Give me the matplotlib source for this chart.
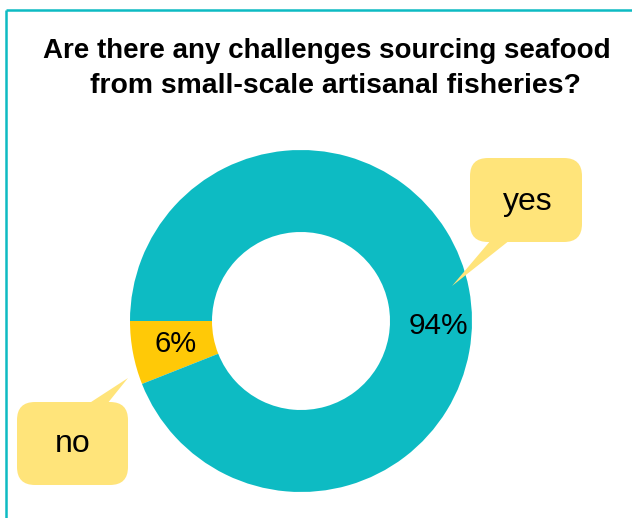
import matplotlib
matplotlib.use("Agg")
import matplotlib.pyplot as plt
from matplotlib.patches import FancyBboxPatch, Polygon

plt.rcParams['font.family'] = ['Liberation Sans', 'DejaVu Sans']

title_lines = ["Are there any challenges sourcing seafood",
               "from small-scale artisanal fisheries?"]
categories = ["no", "yes"]
values = [6, 94]
pct_labels = ["6%", "94%"]

W, H = 632, 518
teal = "#0DBBC3"
gold = "#FFC907"
bubble = "#FFE47A"

fig = plt.figure(figsize=(W / 100, H / 100), dpi=100)
ax = fig.add_axes([0, 0, 1, 1])

def Y(y):
    return H - y

# donut
cx, cy, R, r_in = 301, 321, 171, 89
ax.pie(values, colors=[gold, teal], startangle=180,
       counterclock=True, center=(cx, Y(cy)), radius=R,
       wedgeprops=dict(width=R - r_in, linewidth=0),
       frame=True)
ax.set_xlim(0, W)
ax.set_ylim(0, H)
ax.set_aspect("equal")
ax.axis("off")

# frame lines
ax.plot([6, W], [Y(10), Y(10)], color=teal, lw=1.8, solid_capstyle="butt")
ax.plot([6, 6], [Y(10), Y(H)], color=teal, lw=1.8, solid_capstyle="butt")

# title
ax.text(327, Y(51), title_lines[0], ha="center", va="center", fontsize=20,
        fontweight="bold", color="black")
ax.text(335, Y(86), title_lines[1], ha="center", va="center", fontsize=20.4,
        fontweight="bold", color="black")

# percent labels
ax.text(176, Y(344), pct_labels[0], ha="center", va="center", fontsize=21)
ax.text(438, Y(326), pct_labels[1], ha="center", va="center", fontsize=21.5)

# callouts
def callout(x0, y0, x1, y1, tail, label, dx=0, dy=0):
    box = FancyBboxPatch((x0, Y(y1)), x1 - x0, y1 - y0,
                         boxstyle="round,pad=0,rounding_size=18",
                         facecolor=bubble, edgecolor="none", zorder=3)
    ax.add_patch(box)
    ax.add_patch(Polygon([(px, Y(py)) for px, py in tail], closed=True,
                         facecolor=bubble, edgecolor="none", zorder=3))
    ax.text((x0 + x1) / 2 + dx, Y((y0 + y1) / 2 + dy), label, ha="center",
            va="center", fontsize=23, zorder=4)

callout(470, 158, 582, 242, [(491, 240), (510, 240), (452, 286)],
        categories[1], dx=2, dy=2)
callout(17, 402, 128, 485, [(88, 404), (107, 404), (128, 378)], categories[0])

fig.savefig("out.png", dpi=100)
